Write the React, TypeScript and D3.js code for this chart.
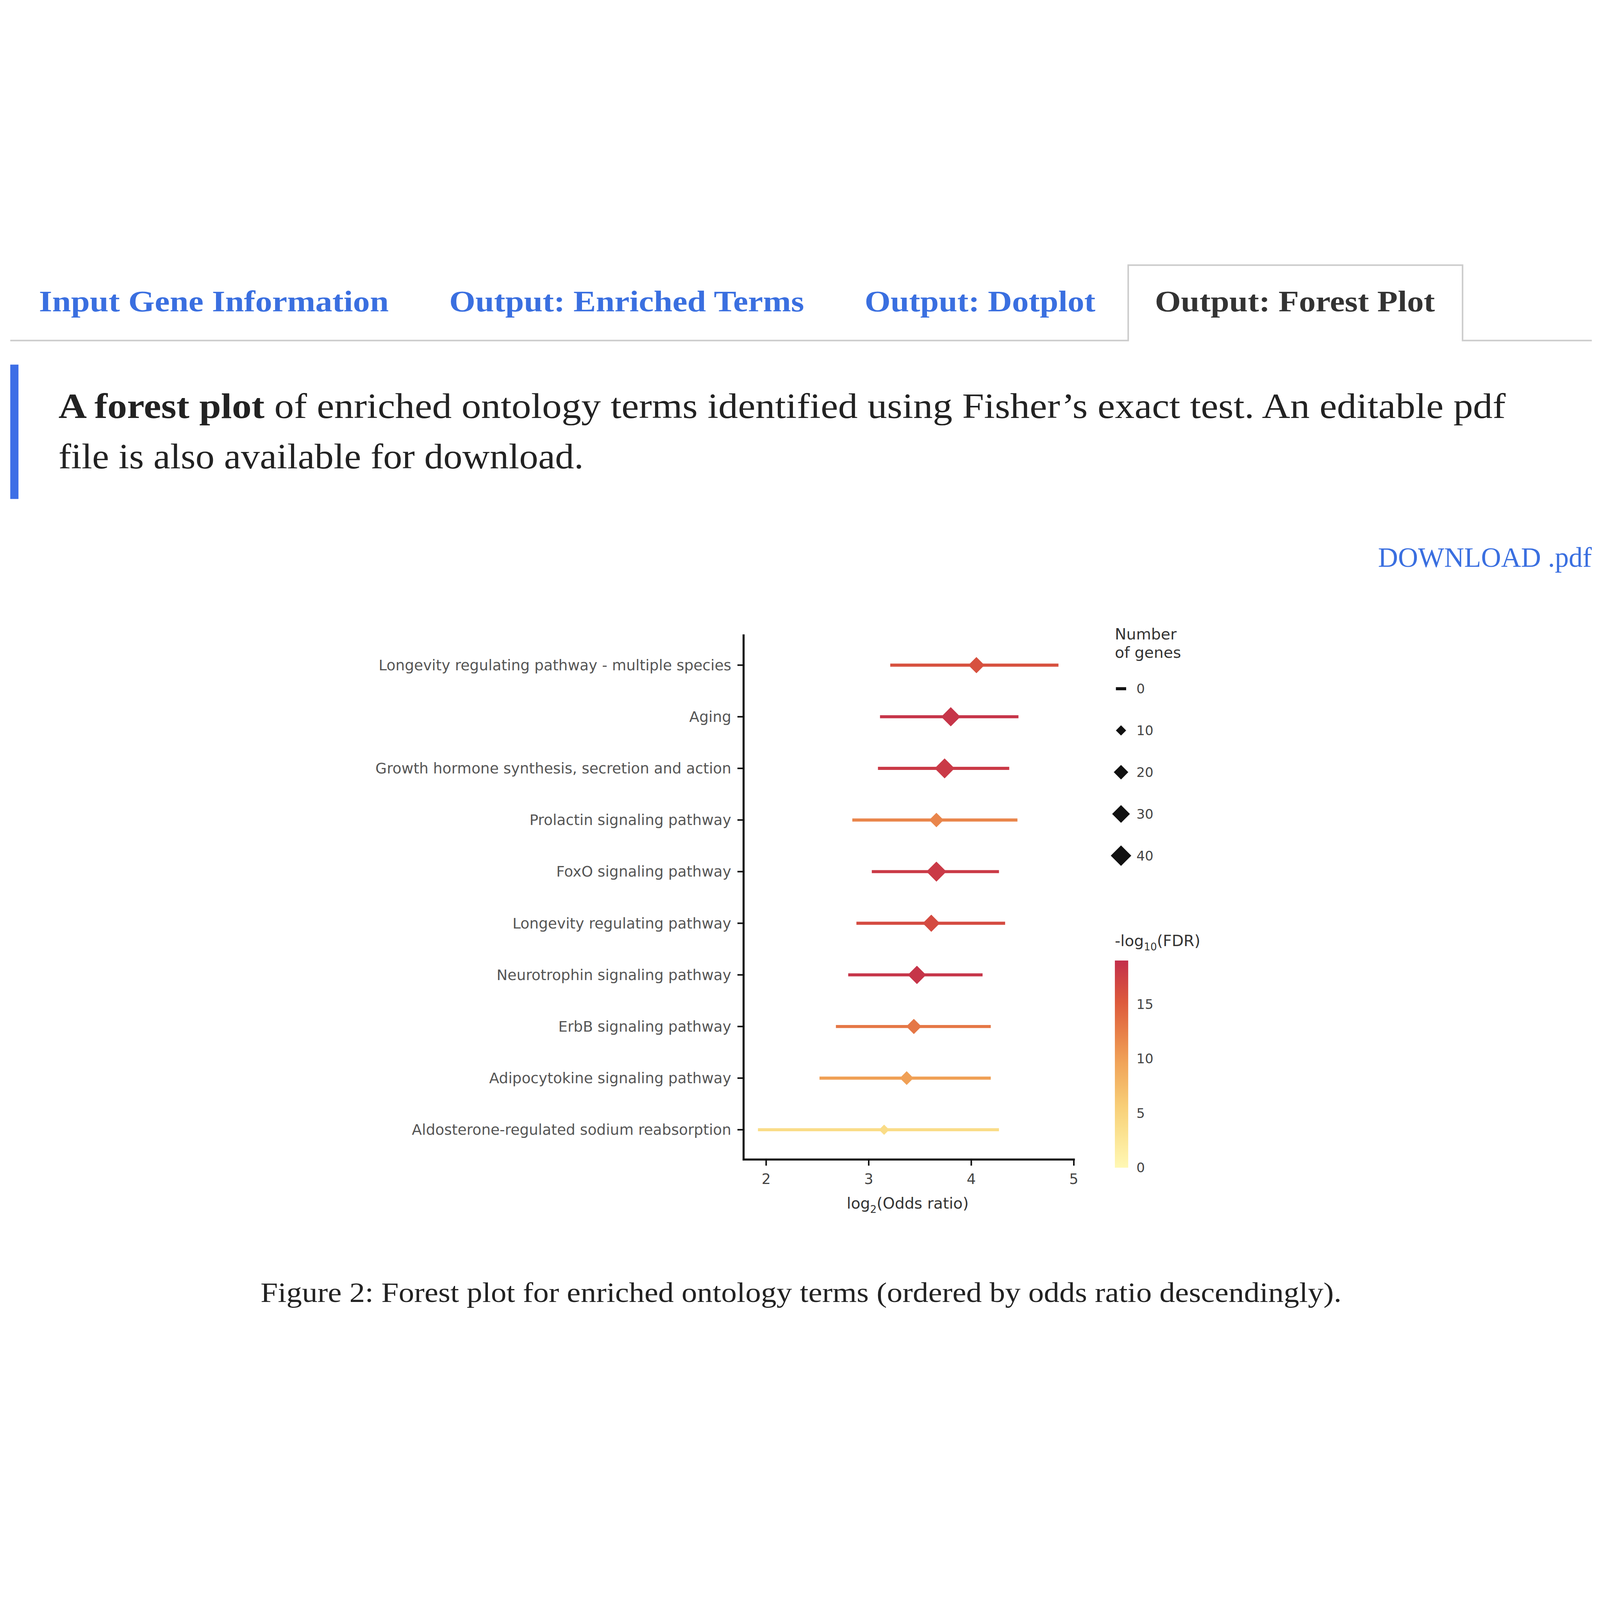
import React from 'react';
import * as d3 from 'd3';

const terms = [
  'Longevity regulating pathway - multiple species',
  'Aging',
  'Growth hormone synthesis, secretion and action',
  'Prolactin signaling pathway',
  'FoxO signaling pathway',
  'Longevity regulating pathway',
  'Neurotrophin signaling pathway',
  'ErbB signaling pathway',
  'Adipocytokine signaling pathway',
  'Aldosterone-regulated sodium reabsorption',
];
const oddsRatio = [4.05, 3.8, 3.74, 3.66, 3.66, 3.61, 3.47, 3.44, 3.37, 3.15];
const ciLow = [3.21, 3.11, 3.09, 2.84, 3.03, 2.88, 2.8, 2.68, 2.52, 1.92];
const ciHigh = [4.85, 4.46, 4.37, 4.45, 4.27, 4.33, 4.11, 4.19, 4.19, 4.27];
const fdr = [16, 18.5, 18, 12, 18, 16.5, 18.5, 13, 10, 4];
const nGenes = [25, 35, 38, 20, 38, 28, 32, 22, 18, 10];
const xTicks = [2, 3, 4, 5];
const sizeLegend = [0, 10, 20, 30, 40];
const colorTicks = [0, 5, 10, 15];
const tabs = ['Input Gene Information', 'Output: Enriched Terms', 'Output: Dotplot', 'Output: Forest Plot'];
const tabX = [38, 438, 843, 1126];
const tabW = [341, 346, 225, 273];

const W = 1560;
const H = 1123;
const serif = '"Liberation Serif", "DejaVu Serif", serif';
const sans = '"DejaVu Sans", sans-serif';

const x = d3.scaleLinear().domain([1.78, 5]).range([725, 1047]);
const y = d3.scalePoint<string>().domain(terms).range([430, 883]);
const r = d3.scaleSqrt().domain([0, 40]).range([0, 10]);
const color = d3
  .scaleLinear<string>()
  .domain([0, 5, 10, 15, 19])
  .range(['#fff8b4', '#f9d57c', '#f0a056', '#de5c3b', '#c32f4b'])
  .clamp(true);
const cbY = d3.scaleLinear().domain([0, 19]).range([920, 718]);

const diamond = (cx: number, cy: number, s: number) =>
  `M${cx},${cy - s}L${cx + s},${cy}L${cx},${cy + s}L${cx - s},${cy}Z`;

export default function App() {
  const stops = d3.range(0, 1.01, 0.1);
  return (
    <svg
      viewBox={`0 0 ${W} ${H}`}
      preserveAspectRatio="xMidYMid meet"
      style={{ position: 'fixed', left: 0, top: 0, width: '100vw', height: '100vh', background: '#fff' }}
    >
      <defs>
        <linearGradient id="cb" x1="0" y1="1" x2="0" y2="0">
          {stops.map((t) => (
            <stop key={t} offset={t} stopColor={color(t * 19)} />
          ))}
        </linearGradient>
      </defs>
      {/* tabs */}
      <path d="M10,113.5H1100V40H1426V113.5H1552" fill="none" stroke="#ccc" strokeWidth={1.5} />
      {tabs.map((t, i) => (
        <text
          key={t}
          x={tabX[i]}
          y={85}
          fontFamily={serif}
          fontWeight="bold"
          fontSize={29}
          textLength={tabW[i]}
          lengthAdjust="spacingAndGlyphs"
          fill={i === 3 ? '#333' : '#3a6fe0'}
        >
          {t}
        </text>
      ))}
      {/* note */}
      <rect x={10} y={137} width={8} height={131} fill="#3d6ee6" />
      <text x={57} y={189} fontFamily={serif} fontSize={35} fill="#222" textLength={1411} lengthAdjust="spacingAndGlyphs">
        <tspan fontWeight="bold">A forest plot</tspan> of enriched ontology terms identified using Fisher’s exact test. An editable pdf
      </text>
      <text x={57} y={238} fontFamily={serif} fontSize={35} fill="#222" textLength={512} lengthAdjust="spacingAndGlyphs">
        file is also available for download.
      </text>
      <text x={1552} y={334} textAnchor="end" fontFamily={serif} fontSize={27} fill="#3a6fe0">
        DOWNLOAD .pdf
      </text>
      {/* plot */}
      <g fontFamily={sans}>
        <line x1={725} x2={725} y1={400} y2={913} stroke="#111" strokeWidth={2} />
        <line x1={724} x2={1048} y1={912} y2={912} stroke="#111" strokeWidth={2} />
        {xTicks.map((t) => (
          <g key={t}>
            <line x1={x(t)} x2={x(t)} y1={912} y2={918} stroke="#111" strokeWidth={1.5} />
            <text x={x(t)} y={936} textAnchor="middle" fontSize={14} fill="#444">{t}</text>
          </g>
        ))}
        <text x={885} y={960} textAnchor="middle" fontSize={15} fill="#333">
          log<tspan fontSize={10} dy={4}>2</tspan><tspan dy={-4}>(Odds ratio)</tspan>
        </text>
        {terms.map((t, i) => (
          <g key={t}>
            <line x1={719} x2={725} y1={y(t)} y2={y(t)} stroke="#111" strokeWidth={1.5} />
            <text x={713} y={y(t)!} dy="0.35em" textAnchor="end" fontSize={14.3} fill="#555">{t}</text>
            <line x1={x(ciLow[i])} x2={x(ciHigh[i])} y1={y(t)} y2={y(t)} stroke={color(fdr[i])} strokeWidth={3} />
            <path d={diamond(x(oddsRatio[i]), y(t)!, r(nGenes[i]))} fill={color(fdr[i])} />
          </g>
        ))}
        {/* size legend */}
        <text x={1087} y={405} fontSize={15} fill="#333">Number</text>
        <text x={1087} y={423} fontSize={15} fill="#333">of genes</text>
        {sizeLegend.map((s, i) => {
          const cy = 453 + i * 40.7;
          return (
            <g key={s}>
              {s === 0 ? (
                <line x1={1088} x2={1098} y1={cy} y2={cy} stroke="#111" strokeWidth={3} />
              ) : (
                <path d={diamond(1093, cy, r(s))} fill="#111" />
              )}
              <text x={1108} y={cy} dy="0.35em" fontSize={13} fill="#444">{s}</text>
            </g>
          );
        })}
        {/* colour legend */}
        <text x={1087} y={704} fontSize={15} fill="#333">
          -log<tspan fontSize={10} dy={4}>10</tspan><tspan dy={-4}>(FDR)</tspan>
        </text>
        <rect x={1087} y={718} width={13} height={202} fill="url(#cb)" />
        {colorTicks.map((t) => (
          <text key={t} x={1108} y={cbY(t)} dy="0.35em" fontSize={13} fill="#444">{t}</text>
        ))}
      </g>
      <text x={781} y={1051} textAnchor="middle" fontFamily={serif} fontSize={27} fill="#222" textLength={1054} lengthAdjust="spacingAndGlyphs">
        Figure 2: Forest plot for enriched ontology terms (ordered by odds ratio descendingly).
      </text>
    </svg>
  );
}
